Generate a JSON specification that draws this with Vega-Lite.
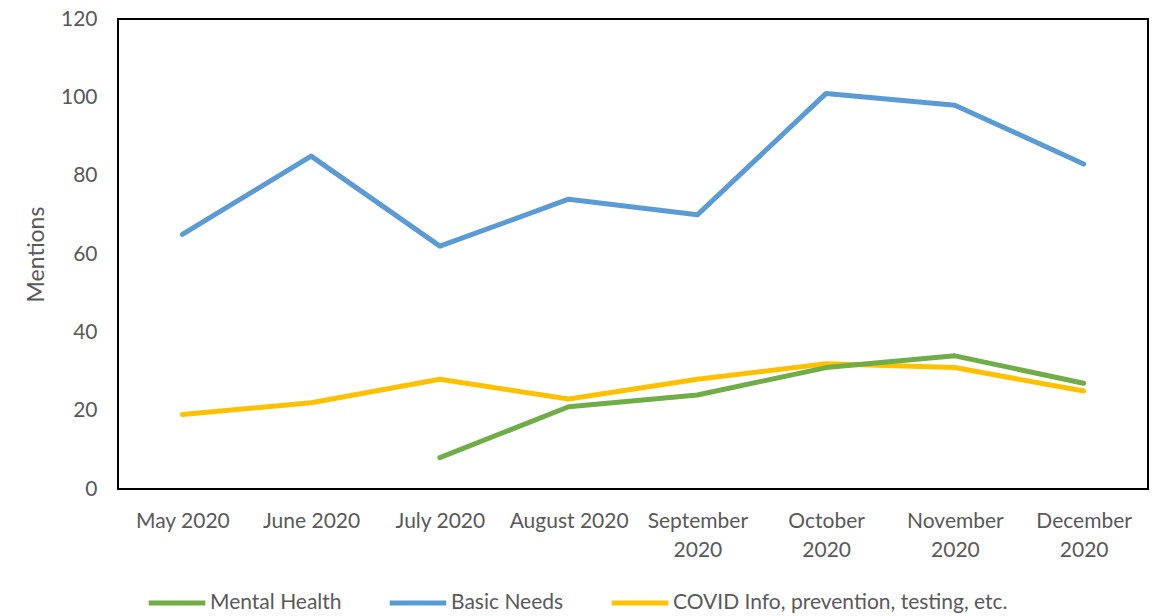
{
  "$schema": "https://vega.github.io/schema/vega-lite/v6.json",
  "width": 1030,
  "height": 470,
  "autosize": "none",
  "padding": {"left": 118, "top": 19, "right": 8, "bottom": 127},
  "background": "white",
  "config": {
    "font": "Lato",
    "view": {"stroke": "#000000", "strokeWidth": 2}
  },
  "data": {
    "values": [
      {"month": "May 2020", "series": "Basic Needs", "mentions": 65},
      {"month": "June 2020", "series": "Basic Needs", "mentions": 85},
      {"month": "July 2020", "series": "Basic Needs", "mentions": 62},
      {"month": "August 2020", "series": "Basic Needs", "mentions": 74},
      {"month": "September 2020", "series": "Basic Needs", "mentions": 70},
      {"month": "October 2020", "series": "Basic Needs", "mentions": 101},
      {"month": "November 2020", "series": "Basic Needs", "mentions": 98},
      {"month": "December 2020", "series": "Basic Needs", "mentions": 83},
      {"month": "May 2020", "series": "COVID Info, prevention, testing, etc.", "mentions": 19},
      {"month": "June 2020", "series": "COVID Info, prevention, testing, etc.", "mentions": 22},
      {"month": "July 2020", "series": "COVID Info, prevention, testing, etc.", "mentions": 28},
      {"month": "August 2020", "series": "COVID Info, prevention, testing, etc.", "mentions": 23},
      {"month": "September 2020", "series": "COVID Info, prevention, testing, etc.", "mentions": 28},
      {"month": "October 2020", "series": "COVID Info, prevention, testing, etc.", "mentions": 32},
      {"month": "November 2020", "series": "COVID Info, prevention, testing, etc.", "mentions": 31},
      {"month": "December 2020", "series": "COVID Info, prevention, testing, etc.", "mentions": 25},
      {"month": "July 2020", "series": "Mental Health", "mentions": 8},
      {"month": "August 2020", "series": "Mental Health", "mentions": 21},
      {"month": "September 2020", "series": "Mental Health", "mentions": 24},
      {"month": "October 2020", "series": "Mental Health", "mentions": 31},
      {"month": "November 2020", "series": "Mental Health", "mentions": 34},
      {"month": "December 2020", "series": "Mental Health", "mentions": 27}
    ]
  },
  "mark": {"type": "line", "strokeWidth": 5, "strokeCap": "round", "strokeJoin": "round"},
  "encoding": {
    "x": {
      "field": "month",
      "type": "nominal",
      "sort": ["May 2020", "June 2020", "July 2020", "August 2020", "September 2020", "October 2020", "November 2020", "December 2020"],
      "scale": {"paddingOuter": 0.5, "paddingInner": 0},
      "axis": {
        "title": null,
        "domain": false,
        "ticks": false,
        "labelAngle": 0,
        "labelFontSize": 21,
        "labelColor": "#595959",
        "labelPadding": 21,
        "labelLineHeight": 29,
        "labelExpr": "length(datum.label) > 11 ? split(datum.label, ' ') : datum.label"
      }
    },
    "y": {
      "field": "mentions",
      "type": "quantitative",
      "scale": {"domain": [0, 120]},
      "axis": {
        "title": "Mentions",
        "titleFontSize": 23,
        "titleFontWeight": "normal",
        "titleColor": "#595959",
        "titlePadding": 12,
        "values": [0, 20, 40, 60, 80, 100, 120],
        "domain": false,
        "ticks": false,
        "grid": false,
        "labelFontSize": 21,
        "labelColor": "#595959",
        "labelPadding": 21
      }
    },
    "color": {
      "field": "series",
      "type": "nominal",
      "scale": {
        "domain": ["Mental Health", "Basic Needs", "COVID Info, prevention, testing, etc."],
        "range": ["#70AD47", "#5B9BD5", "#FFC000"]
      },
      "legend": {
        "title": null,
        "orient": "none",
        "direction": "horizontal",
        "legendX": 28,
        "legendY": 553,
        "symbolType": "stroke",
        "symbolSize": 3200,
        "symbolStrokeWidth": 5,
        "labelFontSize": 21,
        "labelColor": "#595959",
        "labelOffset": 2,
        "columnPadding": 37,
        "labelLimit": 400
      }
    }
  }
}
